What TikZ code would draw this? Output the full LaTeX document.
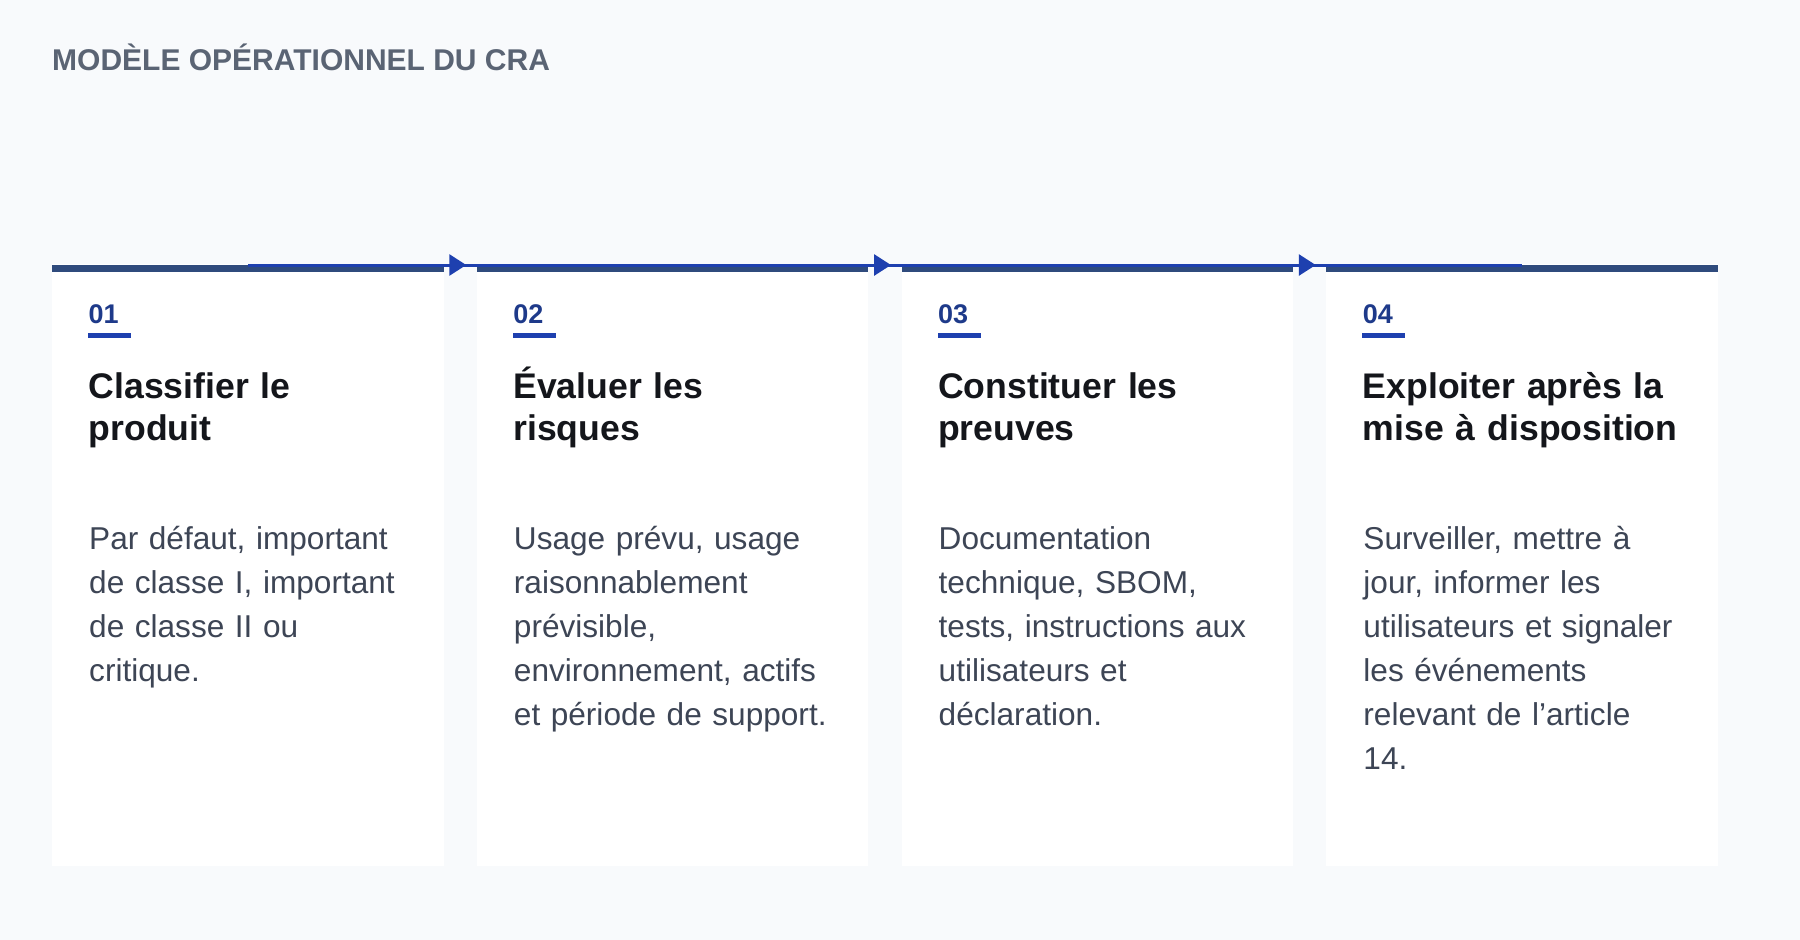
\documentclass[tikz,border=0pt]{standalone}
\usepackage{fontspec}
\setmainfont{Liberation Sans}
\usetikzlibrary{arrows.meta,decorations.markings,calc}
\definecolor{bgc}{HTML}{F8FAFC}
\definecolor{barc}{HTML}{2F4B7D}
\definecolor{flowc}{HTML}{1E40AF}
\definecolor{numc}{HTML}{1E3A8A}
\definecolor{headc}{HTML}{14161B}
\definecolor{bodyc}{HTML}{3D4555}
\definecolor{titlec}{HTML}{5A6474}
\begin{document}
\begin{tikzpicture}[x=1pt,y=-1pt,
  card/.style={fill=white, draw=none, minimum width=391.5pt, minimum height=602pt, inner sep=0pt, outer sep=0pt},
  topbar/.style={fill=barc},
  flowline/.style={draw=flowc, line width=3pt, postaction={decorate},
    decoration={markings, mark=at position 218.5pt with {\arrow{Triangle[length=17pt,width=21pt]}}}},
  numtxt/.style={inner sep=0pt, text=numc, font=\fontsize{27}{30}\selectfont\bfseries},
  uline/.style={fill=flowc},
  headtxt/.style={inner sep=0pt, text=headc, text width=350pt, align=left, font=\fontsize{35.6}{42}\selectfont\bfseries},
  bodytxt/.style={inner sep=0pt, text=bodyc, text width=350pt, align=left, font=\fontsize{31.6}{44}\selectfont},
  titletxt/.style={inner sep=0pt, text=titlec, font=\fontsize{30}{32}\selectfont\bfseries}
]
\fill[bgc] (0,0) rectangle (1800,940);
\useasboundingbox (0,0) rectangle (1800,940);

\node[titletxt, anchor=base west] (title) at (52,70) {MODÈLE OPÉRATIONNEL DU CRA};

\node[card, anchor=north west] (c1) at (52,264) {};
\node[card, anchor=north west] (c2) at (476.75,264) {};
\node[card, anchor=north west] (c3) at (901.5,264) {};
\node[card, anchor=north west] (c4) at (1326.25,264) {};

\foreach \c in {c1,c2,c3,c4}{
  \fill[topbar] ([yshift=-0.5pt]\c.north west) rectangle ($(\c.north east)+(0,8)$);
}

\draw[flowline] ([yshift=-1pt]c1.north) -- ([yshift=-1pt]c2.north);
\draw[flowline] ([yshift=-1pt]c2.north) -- ([yshift=-1pt]c3.north);
\draw[flowline] ([yshift=-1pt]c3.north) -- ([yshift=-1pt]c4.north);

\foreach \c/\n in {c1/01,c2/02,c3/03,c4/04}{
  \node[numtxt, anchor=base west] (n\c) at ($(\c.north west)+(36.5,59.3)$) {\n};
  \fill[uline] ($(\c.north west)+(36,69)$) rectangle ++(43,4.7);
}

\node[headtxt, anchor=base west] (h1) at ($(c1.north west)+(36.5,134.5)$) {Classifier le\\produit};
\node[headtxt, anchor=base west] (h2) at ($(c2.north west)+(36.5,134.5)$) {Évaluer les\\risques};
\node[headtxt, anchor=base west] (h3) at ($(c3.north west)+(36.5,134.5)$) {Constituer les\\preuves};
\node[headtxt, anchor=base west] (h4) at ($(c4.north west)+(36.5,134.5)$) {Exploiter après la\\mise à disposition};

\node[bodytxt, anchor=base west] (b1) at ($(c1.north west)+(37,285)$) {Par défaut, important\\de classe I, important\\de classe II ou\\critique.};
\node[bodytxt, anchor=base west] (b2) at ($(c2.north west)+(37,285)$) {Usage prévu, usage\\raisonnablement\\prévisible,\\environnement, actifs\\et période de support.};
\node[bodytxt, anchor=base west] (b3) at ($(c3.north west)+(37,285)$) {Documentation\\technique, SBOM,\\tests, instructions aux\\utilisateurs et\\déclaration.};
\node[bodytxt, anchor=base west] (b4) at ($(c4.north west)+(37,285)$) {Surveiller, mettre à\\jour, informer les\\utilisateurs et signaler\\les événements\\relevant de l’article\\14.};
\end{tikzpicture}
\end{document}
